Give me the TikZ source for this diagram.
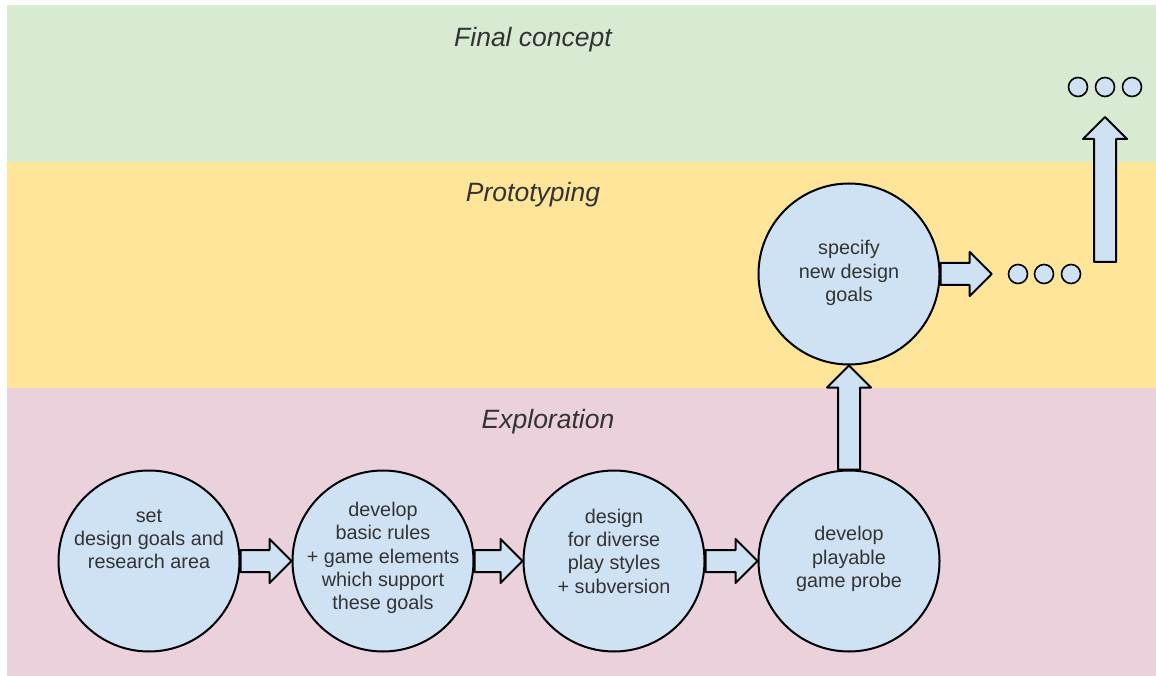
\documentclass[tikz,border=0pt]{standalone}
\usepackage{fontspec}
\setmainfont{Liberation Sans}
\usetikzlibrary{calc}

\definecolor{bandgreen}{HTML}{D9EAD3}
\definecolor{bandyellow}{HTML}{FFE599}
\definecolor{bandpink}{HTML}{EAD1DC}
\definecolor{stageblue}{HTML}{CFE2F3}
\definecolor{textgray}{HTML}{333333}

\newcommand{\rightblock}[2]{\draw[blockarrow] let \p1=(#1), \p2=(#2) in
  (\x1,\y1+11pt) -- (\x2-22pt,\y1+11pt) -- (\x2-22pt,\y1+22pt) -- (\x2,\y1)
  -- (\x2-22pt,\y1-22pt) -- (\x2-22pt,\y1-11pt) -- (\x1,\y1-11pt) -- cycle;}
\newcommand{\upblock}[2]{\draw[blockarrow] let \p1=(#1), \p2=(#2) in
  (\x1-11pt,\y1) -- (\x1-11pt,\y2-22pt) -- (\x1-22pt,\y2-22pt) -- (\x1,\y2)
  -- (\x1+22pt,\y2-22pt) -- (\x1+11pt,\y2-22pt) -- (\x1+11pt,\y1) -- cycle;}

\begin{document}
\begin{tikzpicture}
        [x=1pt, y=-1pt,
         stage/.style={draw=black, line width=2pt, shape=circle, fill=stageblue, inner sep=0, minimum size=181pt},
         stagetext/.style={align=center, text=textgray, font=\fontsize{19.8}{23.3}\selectfont},
         dot/.style={draw=black, line width=1.6pt, shape=circle, fill=stageblue, inner sep=0, minimum size=19pt},
         bandlabel/.style={anchor=base, text=textgray, font=\fontsize{26.5}{30}\selectfont\itshape},
         blockarrow/.style={draw=black, line width=2pt, fill=stageblue, line join=round}]

        \useasboundingbox (0,0) rectangle (1156,676);
        \fill[bandgreen] (7,5) rectangle (1156,162);
        \fill[bandyellow] (7,162) rectangle (1156,388);
        \fill[bandpink] (7,388) rectangle (1156,676);

        \node[bandlabel] (final) at (533,47) {Final concept};
        \node[bandlabel] (proto) at (533,202) {Prototyping};
        \node[bandlabel] (explore) at (548,428) {Exploration};

        \node[stage] (s1) at (149,561) {};
        \node[stage] (s2) at (383,561) {};
        \node[stage] (s3) at (614,561) {};
        \node[stage] (s4) at (849,561) {};
        \node[stage] (s5) at (849,274) {};

        \node[stagetext] (t1) at (149,539) {set\\design goals and\\research area};
        \node[stagetext] (t2) at (383,558) {develop\\basic rules\\+ game elements\\which support\\these goals};
        \node[stagetext] (t3) at (614,551) {design\\for diverse\\play styles\\+ subversion};
        \node[stagetext] (t4) at (849,559) {develop\\playable\\game probe};
        \node[stagetext] (t5) at (849,273) {specify\\new design\\goals};

        \node[dot] (m1) at (1018,274) {};
        \node[dot] (m2) at (1044,274) {};
        \node[dot] (m3) at (1071,274) {};
        \node[dot] (f1) at (1078,87) {};
        \node[dot] (f2) at (1105,87) {};
        \node[dot] (f3) at (1132,87) {};

        \coordinate (upbase) at (1105,262);
        \coordinate (uptip) at (1105,117);

        \rightblock{s1.east}{s2.west}
        \rightblock{s2.east}{s3.west}
        \rightblock{s3.east}{s4.west}
        \upblock{s4.north}{s5.south}
        \rightblock{s5.east}{[xshift=-16pt]m1.west}
        \upblock{upbase}{uptip}

      \end{tikzpicture}
\end{document}
